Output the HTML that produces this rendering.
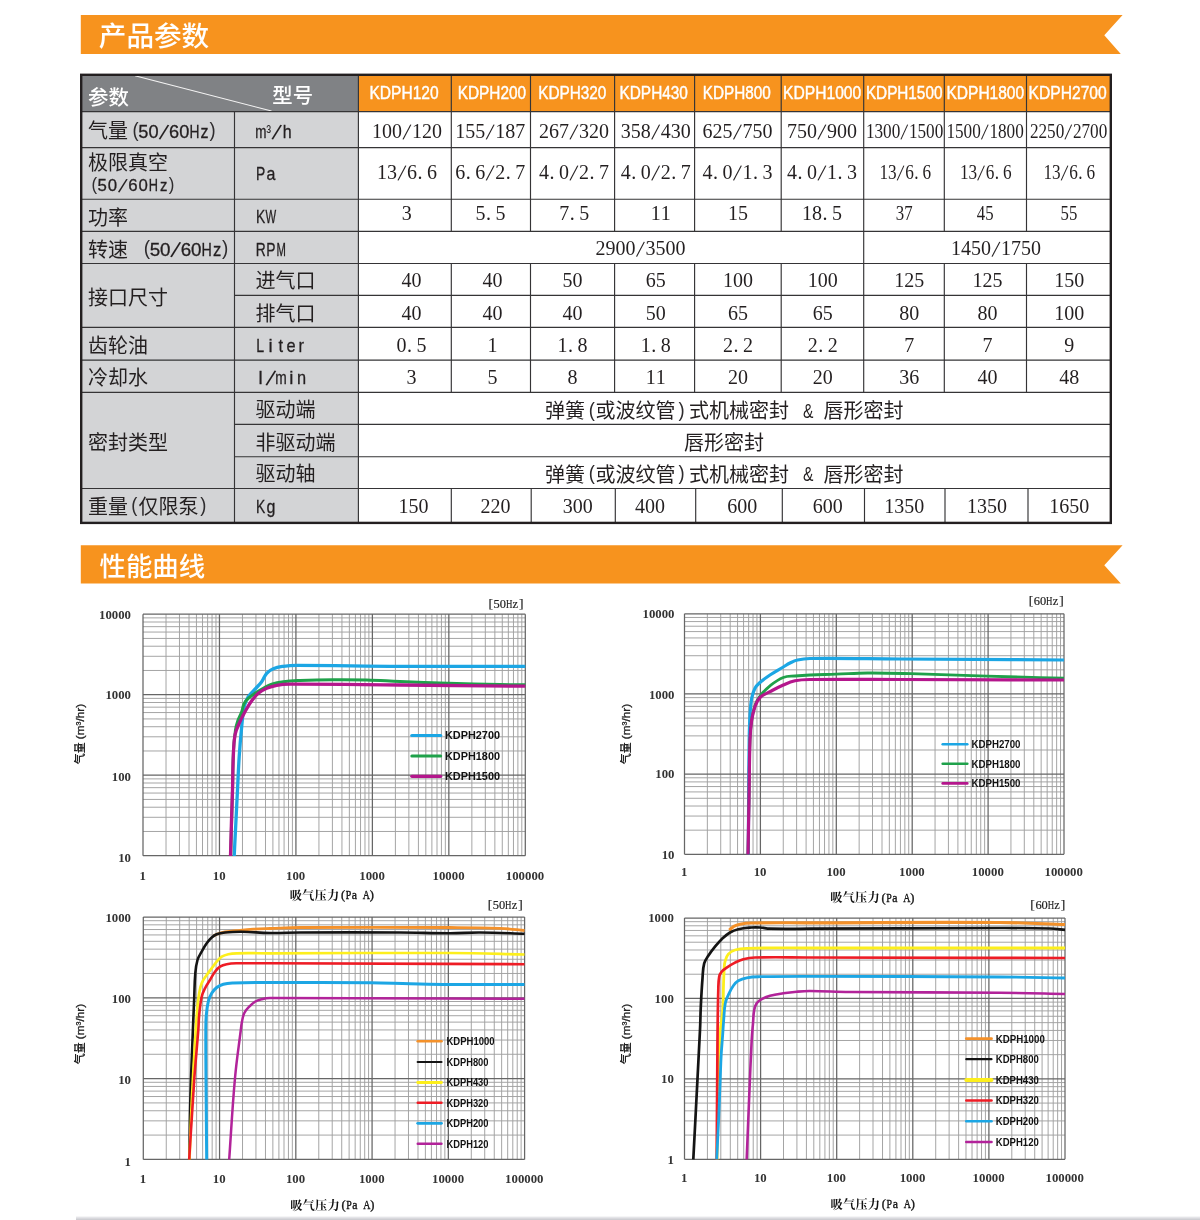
<!DOCTYPE html>
<html lang="zh-CN"><head><meta charset="utf-8"><title>KDPH 产品参数 / 性能曲线</title>
<style>html,body{margin:0;padding:0;background:#fff}svg{display:block}</style></head>
<body><svg width="1200" height="1220" viewBox="0 0 1200 1220">
<rect width="1200" height="1220" fill="#fff"/>
<path d="M80.8 15 H1122.6 L1104.3 35.3 L1120.8 54 H80.8 Z" fill="#F7931E"/>
<text x="98.8" y="45.6" font-family="'Liberation Sans','Noto Sans CJK SC',sans-serif" font-size="27.6" fill="#fff" text-anchor="start" font-weight="500">产品参数</text>
<path d="M80.8 545.3 H1122.6 L1104.3 565.25 L1120.8 583.6 H80.8 Z" fill="#F7931E"/>
<text x="99.5" y="575.5" font-family="'Liberation Sans','Noto Sans CJK SC',sans-serif" font-size="26.4" fill="#fff" text-anchor="start" font-weight="500">性能曲线</text>
<rect x="81" y="75" width="277.4" height="36.6" fill="#808285"/>
<rect x="358.4" y="75" width="752.4" height="36.6" fill="#F7931E"/>
<rect x="81" y="111.6" width="277.4" height="411.3" fill="#D3D4D6"/>
<path d="M135 75.8 L271.5 111" stroke="#f4f4f4" stroke-width="1.1" fill="none"/>
<path d="M81.2 111.6H1110.8M81.2 147.6H1110.8M81.2 199.2H1110.8M81.2 231.4H1110.8M81.2 263.5H1110.8M234.5 295.3H1110.8M81.2 327.4H1110.8M81.2 360.1H1110.8M81.2 392.4H1110.8M234.5 424.4H1110.8M234.5 456.7H1110.8M81.2 488.5H1110.8M234.5 111.6V522.9M358.4 74.8V522.9M451.3 74.8V231.4M451.3 263.5V392.4M530.5 74.8V231.4M530.5 263.5V392.4M614.6 74.8V231.4M614.6 263.5V392.4M694.6 74.8V231.4M694.6 263.5V392.4M781.2 74.8V231.4M781.2 263.5V392.4M863.7 74.8V231.4M863.7 263.5V392.4M944.3 74.8V231.4M944.3 263.5V392.4M1026.5 74.8V231.4M1026.5 263.5V392.4M863.7 231.4V263.5M451.3 488.5V522.9M531.2 488.5V522.9M615.3 488.5V522.9M695.7 488.5V522.9M782.3 488.5V522.9M864.5 488.5V522.9M945 488.5V522.9M1028 488.5V522.9" stroke="#353436" stroke-width="1.15" fill="none"/>
<rect x="81.2" y="74.8" width="1029.6" height="448.1" fill="none" stroke="#231F20" stroke-width="2.4"/>
<text x="88" y="104.8" font-family="'Liberation Sans','Noto Sans CJK SC',sans-serif" font-size="20.4" fill="#fff" text-anchor="start" font-weight="500">参数</text>
<text x="272.3" y="102.8" font-family="'Liberation Sans','Noto Sans CJK SC',sans-serif" font-size="20.4" fill="#fff" text-anchor="start" font-weight="500">型号</text>
<text x="369.5" y="99.4" font-family="'Liberation Sans',sans-serif" font-size="18" fill="#fff" stroke="#fff" stroke-width="0.45" textLength="69.1" lengthAdjust="spacingAndGlyphs">KDPH120</text>
<text x="457.7" y="99.4" font-family="'Liberation Sans',sans-serif" font-size="18" fill="#fff" stroke="#fff" stroke-width="0.45" textLength="68.4" lengthAdjust="spacingAndGlyphs">KDPH200</text>
<text x="538.2" y="99.4" font-family="'Liberation Sans',sans-serif" font-size="18" fill="#fff" stroke="#fff" stroke-width="0.45" textLength="68.1" lengthAdjust="spacingAndGlyphs">KDPH320</text>
<text x="619.5" y="99.4" font-family="'Liberation Sans',sans-serif" font-size="18" fill="#fff" stroke="#fff" stroke-width="0.45" textLength="68.4" lengthAdjust="spacingAndGlyphs">KDPH430</text>
<text x="702.8" y="99.4" font-family="'Liberation Sans',sans-serif" font-size="18" fill="#fff" stroke="#fff" stroke-width="0.45" textLength="67.9" lengthAdjust="spacingAndGlyphs">KDPH800</text>
<text x="783.1" y="99.4" font-family="'Liberation Sans',sans-serif" font-size="18" fill="#fff" stroke="#fff" stroke-width="0.45" textLength="78.1" lengthAdjust="spacingAndGlyphs">KDPH1000</text>
<text x="865.9" y="99.4" font-family="'Liberation Sans',sans-serif" font-size="18" fill="#fff" stroke="#fff" stroke-width="0.45" textLength="76.5" lengthAdjust="spacingAndGlyphs">KDPH1500</text>
<text x="946.5" y="99.4" font-family="'Liberation Sans',sans-serif" font-size="18" fill="#fff" stroke="#fff" stroke-width="0.45" textLength="77.6" lengthAdjust="spacingAndGlyphs">KDPH1800</text>
<text x="1028.6" y="99.4" font-family="'Liberation Sans',sans-serif" font-size="18" fill="#fff" stroke="#fff" stroke-width="0.45" textLength="78.1" lengthAdjust="spacingAndGlyphs">KDPH2700</text>
<text font-family="'Liberation Sans','Noto Sans CJK SC',sans-serif" font-size="20" font-weight="400" fill="#231F20"><tspan x="88" y="138.3">气量</tspan><tspan x="132.44" y="136.9" font-family="'Liberation Sans',sans-serif" font-size="20.4" textLength="6.11" lengthAdjust="spacingAndGlyphs" fill="#2e2c2e">(</tspan><tspan x="138.34" y="138.2" font-family="'Liberation Sans',sans-serif" font-size="18.2" stroke="#231F20" stroke-width="0.3">5</tspan><tspan x="148.54" y="138.2" font-family="'Liberation Sans',sans-serif" font-size="18.2" stroke="#231F20" stroke-width="0.3">0</tspan><tspan x="158.63" y="138.8" font-family="'Liberation Sans',sans-serif" font-size="22" rotate="17">/</tspan><tspan x="168.94" y="138.2" font-family="'Liberation Sans',sans-serif" font-size="18.2" stroke="#231F20" stroke-width="0.3">6</tspan><tspan x="179.14" y="138.2" font-family="'Liberation Sans',sans-serif" font-size="18.2" stroke="#231F20" stroke-width="0.3">0</tspan><tspan x="189.41" y="138.2" font-family="'Liberation Sans',sans-serif" font-size="18.2" textLength="9.99" lengthAdjust="spacingAndGlyphs" stroke="#231F20" stroke-width="0.3">H</tspan><tspan x="200.6" y="138.2" font-family="'Liberation Sans',sans-serif" font-size="18.2" textLength="8.01" lengthAdjust="spacingAndGlyphs" stroke="#231F20" stroke-width="0.3">z</tspan><tspan x="209.44" y="136.9" font-family="'Liberation Sans',sans-serif" font-size="20.4" textLength="6.11" lengthAdjust="spacingAndGlyphs" fill="#2e2c2e">)</tspan></text>
<text font-family="'Liberation Sans','Noto Sans CJK SC',sans-serif" font-size="20" font-weight="400" fill="#231F20"><tspan x="88" y="169.8">极限真空</tspan></text>
<text font-family="'Liberation Sans','Noto Sans CJK SC',sans-serif" font-size="20" font-weight="400" fill="#231F20"><tspan x="91.4" y="189.9" font-family="'Liberation Sans',sans-serif" font-size="18.83" textLength="5.64" lengthAdjust="spacingAndGlyphs" fill="#2e2c2e">(</tspan><tspan x="97.5" y="191.2" font-family="'Liberation Sans',sans-serif" font-size="16.8" stroke="#231F20" stroke-width="0.3">5</tspan><tspan x="107.75" y="191.2" font-family="'Liberation Sans',sans-serif" font-size="16.8" stroke="#231F20" stroke-width="0.3">0</tspan><tspan x="117.9" y="191.8" font-family="'Liberation Sans',sans-serif" font-size="20.31" rotate="17">/</tspan><tspan x="128.25" y="191.2" font-family="'Liberation Sans',sans-serif" font-size="16.8" stroke="#231F20" stroke-width="0.3">6</tspan><tspan x="138.5" y="191.2" font-family="'Liberation Sans',sans-serif" font-size="16.8" stroke="#231F20" stroke-width="0.3">0</tspan><tspan x="148.81" y="191.2" font-family="'Liberation Sans',sans-serif" font-size="16.8" textLength="9.22" lengthAdjust="spacingAndGlyphs" stroke="#231F20" stroke-width="0.3">H</tspan><tspan x="159.98" y="191.2" font-family="'Liberation Sans',sans-serif" font-size="16.8" textLength="7.39" lengthAdjust="spacingAndGlyphs" stroke="#231F20" stroke-width="0.3">z</tspan><tspan x="168.8" y="189.9" font-family="'Liberation Sans',sans-serif" font-size="18.83" textLength="5.64" lengthAdjust="spacingAndGlyphs" fill="#2e2c2e">)</tspan></text>
<text font-family="'Liberation Sans','Noto Sans CJK SC',sans-serif" font-size="20" font-weight="400" fill="#231F20"><tspan x="88" y="225.3">功率</tspan></text>
<text font-family="'Liberation Sans','Noto Sans CJK SC',sans-serif" font-size="20" font-weight="400" fill="#231F20"><tspan x="88" y="257.3">转速</tspan> <tspan x="143.72" y="254.7" font-family="'Liberation Sans',sans-serif" font-size="21.07" textLength="6.32" lengthAdjust="spacingAndGlyphs" fill="#2e2c2e">(</tspan><tspan x="149.7" y="256" font-family="'Liberation Sans',sans-serif" font-size="18.8" stroke="#231F20" stroke-width="0.3">5</tspan><tspan x="160.05" y="256" font-family="'Liberation Sans',sans-serif" font-size="18.8" stroke="#231F20" stroke-width="0.3">0</tspan><tspan x="170.28" y="256.6" font-family="'Liberation Sans',sans-serif" font-size="22.73" rotate="17">/</tspan><tspan x="180.75" y="256" font-family="'Liberation Sans',sans-serif" font-size="18.8" stroke="#231F20" stroke-width="0.3">6</tspan><tspan x="191.1" y="256" font-family="'Liberation Sans',sans-serif" font-size="18.8" stroke="#231F20" stroke-width="0.3">0</tspan><tspan x="201.52" y="256" font-family="'Liberation Sans',sans-serif" font-size="18.8" textLength="10.32" lengthAdjust="spacingAndGlyphs" stroke="#231F20" stroke-width="0.3">H</tspan><tspan x="212.89" y="256" font-family="'Liberation Sans',sans-serif" font-size="18.8" textLength="8.27" lengthAdjust="spacingAndGlyphs" stroke="#231F20" stroke-width="0.3">z</tspan><tspan x="221.92" y="254.7" font-family="'Liberation Sans',sans-serif" font-size="21.07" textLength="6.32" lengthAdjust="spacingAndGlyphs" fill="#2e2c2e">)</tspan></text>
<text font-family="'Liberation Sans','Noto Sans CJK SC',sans-serif" font-size="20" font-weight="400" fill="#231F20"><tspan x="88" y="304.8">接口尺寸</tspan></text>
<text font-family="'Liberation Sans','Noto Sans CJK SC',sans-serif" font-size="20" font-weight="400" fill="#231F20"><tspan x="88" y="353.3">齿轮油</tspan></text>
<text font-family="'Liberation Sans','Noto Sans CJK SC',sans-serif" font-size="20" font-weight="400" fill="#231F20"><tspan x="88" y="384.8">冷却水</tspan></text>
<text font-family="'Liberation Sans','Noto Sans CJK SC',sans-serif" font-size="20" font-weight="400" fill="#231F20"><tspan x="88" y="449.8">密封类型</tspan></text>
<text font-family="'Liberation Sans','Noto Sans CJK SC',sans-serif" font-size="20" font-weight="400" fill="#231F20"><tspan x="88" y="513.8">重量</tspan><tspan x="131.14" y="512.2" font-family="'Liberation Sans',sans-serif" font-size="20.4" textLength="6.11" lengthAdjust="spacingAndGlyphs" fill="#2e2c2e">(</tspan><tspan x="138.6" y="513.8">仅限泵</tspan><tspan x="200.24" y="512.2" font-family="'Liberation Sans',sans-serif" font-size="20.4" textLength="6.11" lengthAdjust="spacingAndGlyphs" fill="#2e2c2e">)</tspan></text>
<text font-family="'Liberation Sans','Noto Sans CJK SC',sans-serif" font-size="20" font-weight="400" fill="#231F20"><tspan x="255.5" y="288.3">进气口</tspan></text>
<text font-family="'Liberation Sans','Noto Sans CJK SC',sans-serif" font-size="20" font-weight="400" fill="#231F20"><tspan x="255.5" y="320.8">排气口</tspan></text>
<text font-family="'Liberation Sans','Noto Sans CJK SC',sans-serif" font-size="20" font-weight="400" fill="#231F20"><tspan x="255.5" y="417.3">驱动端</tspan></text>
<text font-family="'Liberation Sans','Noto Sans CJK SC',sans-serif" font-size="20" font-weight="400" fill="#231F20"><tspan x="255.5" y="449.8">非驱动端</tspan></text>
<text font-family="'Liberation Sans','Noto Sans CJK SC',sans-serif" font-size="20" font-weight="400" fill="#231F20"><tspan x="255.5" y="481.3">驱动轴</tspan></text>
<text font-family="'Liberation Sans',sans-serif" font-size="18.2" font-weight="400" fill="#231F20"><tspan x="255.19" y="138.2" textLength="11.22" lengthAdjust="spacingAndGlyphs" stroke="#231F20" stroke-width="0.3">m</tspan><tspan x="266.14" y="137.6" font-size="17" textLength="4.81" lengthAdjust="spacingAndGlyphs">³</tspan><tspan x="271.43" y="138.8" font-size="22" rotate="17">/</tspan><tspan x="282.75" y="138.2" textLength="8.91" lengthAdjust="spacingAndGlyphs" stroke="#231F20" stroke-width="0.3">h</tspan></text>
<text font-family="'Liberation Sans',sans-serif" font-size="18.2" font-weight="400" fill="#231F20"><tspan x="256.09" y="179.7" textLength="9.23" lengthAdjust="spacingAndGlyphs" stroke="#231F20" stroke-width="0.3">P</tspan><tspan x="266.45" y="179.7" textLength="8.91" lengthAdjust="spacingAndGlyphs" stroke="#231F20" stroke-width="0.3">a</tspan></text>
<text font-family="'Liberation Sans',sans-serif" font-size="18.2" font-weight="400" fill="#231F20"><tspan x="256.09" y="223.2" textLength="9.23" lengthAdjust="spacingAndGlyphs" stroke="#231F20" stroke-width="0.3">K</tspan><tspan x="265.57" y="223.2" textLength="10.65" lengthAdjust="spacingAndGlyphs" stroke="#231F20" stroke-width="0.3">W</tspan></text>
<text font-family="'Liberation Sans',sans-serif" font-size="18.2" font-weight="400" fill="#231F20"><tspan x="255.71" y="255.8" textLength="9.99" lengthAdjust="spacingAndGlyphs" stroke="#231F20" stroke-width="0.3">R</tspan><tspan x="266.29" y="255.8" textLength="9.23" lengthAdjust="spacingAndGlyphs" stroke="#231F20" stroke-width="0.3">P</tspan><tspan x="276.4" y="255.8" textLength="9.4" lengthAdjust="spacingAndGlyphs" stroke="#231F20" stroke-width="0.3">M</tspan></text>
<text font-family="'Liberation Sans',sans-serif" font-size="18.6" font-weight="400" fill="#231F20"><tspan x="256.22" y="352.1" textLength="7.86" lengthAdjust="spacingAndGlyphs" stroke="#231F20" stroke-width="0.3">L</tspan><tspan x="268.38" y="352.1" stroke="#231F20" stroke-width="0.3">i</tspan><tspan x="278.48" y="352.1" textLength="4.55" lengthAdjust="spacingAndGlyphs" stroke="#231F20" stroke-width="0.3">t</tspan><tspan x="286.5" y="352.1" textLength="9.1" lengthAdjust="spacingAndGlyphs" stroke="#231F20" stroke-width="0.3">e</tspan><tspan x="298.62" y="352.1" textLength="5.45" lengthAdjust="spacingAndGlyphs" stroke="#231F20" stroke-width="0.3">r</tspan></text>
<text font-family="'Liberation Sans',sans-serif" font-size="18.6" font-weight="400" fill="#231F20"><tspan x="258.38" y="384.1" stroke="#231F20" stroke-width="0.3">l</tspan><tspan x="265.46" y="384.7" font-size="22.48" rotate="17">/</tspan><tspan x="275.32" y="384.1" textLength="11.47" lengthAdjust="spacingAndGlyphs" stroke="#231F20" stroke-width="0.3">m</tspan><tspan x="289.28" y="384.1" stroke="#231F20" stroke-width="0.3">i</tspan><tspan x="297.1" y="384.1" textLength="9.1" lengthAdjust="spacingAndGlyphs" stroke="#231F20" stroke-width="0.3">n</tspan></text>
<text font-family="'Liberation Sans',sans-serif" font-size="18.2" font-weight="400" fill="#231F20"><tspan x="256.09" y="512.6" textLength="9.23" lengthAdjust="spacingAndGlyphs" stroke="#231F20" stroke-width="0.3">K</tspan><tspan x="266.45" y="512.6" textLength="8.91" lengthAdjust="spacingAndGlyphs" stroke="#231F20" stroke-width="0.3">g</tspan></text>
<text font-family="'Liberation Serif','Noto Serif CJK SC',serif" font-size="20" font-weight="400" fill="#231F20"><tspan x="372.1" y="138.3">1</tspan><tspan x="382.1" y="138.3">0</tspan><tspan x="392.1" y="138.3">0</tspan><tspan x="402.59" y="139.1" font-size="23.5" rotate="9">/</tspan><tspan x="412.1" y="138.3">1</tspan><tspan x="422.1" y="138.3">2</tspan><tspan x="432.1" y="138.3">0</tspan></text>
<text font-family="'Liberation Serif','Noto Serif CJK SC',serif" font-size="20" font-weight="400" fill="#231F20"><tspan x="377.1" y="179.2">1</tspan><tspan x="387.1" y="179.2">3</tspan><tspan x="397.59" y="180" font-size="23.5" rotate="9">/</tspan><tspan x="407.1" y="179.2">6</tspan><tspan x="417.6" y="179.2">.</tspan><tspan x="427.1" y="179.2">6</tspan></text>
<text font-family="'Liberation Serif','Noto Serif CJK SC',serif" font-size="20" font-weight="400" fill="#231F20"><tspan x="401.8" y="220.4">3</tspan></text>
<text font-family="'Liberation Serif','Noto Serif CJK SC',serif" font-size="20" font-weight="400" fill="#231F20"><tspan x="455.3" y="138.3">1</tspan><tspan x="465.3" y="138.3">5</tspan><tspan x="475.3" y="138.3">5</tspan><tspan x="485.79" y="139.1" font-size="23.5" rotate="9">/</tspan><tspan x="495.3" y="138.3">1</tspan><tspan x="505.3" y="138.3">8</tspan><tspan x="515.3" y="138.3">7</tspan></text>
<text font-family="'Liberation Serif','Noto Serif CJK SC',serif" font-size="20" font-weight="400" fill="#231F20"><tspan x="455.3" y="179.2">6</tspan><tspan x="465.8" y="179.2">.</tspan><tspan x="475.3" y="179.2">6</tspan><tspan x="485.79" y="180" font-size="23.5" rotate="9">/</tspan><tspan x="495.3" y="179.2">2</tspan><tspan x="505.8" y="179.2">.</tspan><tspan x="515.3" y="179.2">7</tspan></text>
<text font-family="'Liberation Serif','Noto Serif CJK SC',serif" font-size="20" font-weight="400" fill="#231F20"><tspan x="475.5" y="220.4">5</tspan><tspan x="486" y="220.4">.</tspan><tspan x="495.5" y="220.4">5</tspan></text>
<text font-family="'Liberation Serif','Noto Serif CJK SC',serif" font-size="20" font-weight="400" fill="#231F20"><tspan x="539" y="138.3">2</tspan><tspan x="549" y="138.3">6</tspan><tspan x="559" y="138.3">7</tspan><tspan x="569.49" y="139.1" font-size="23.5" rotate="9">/</tspan><tspan x="579" y="138.3">3</tspan><tspan x="589" y="138.3">2</tspan><tspan x="599" y="138.3">0</tspan></text>
<text font-family="'Liberation Serif','Noto Serif CJK SC',serif" font-size="20" font-weight="400" fill="#231F20"><tspan x="539" y="179.2">4</tspan><tspan x="549.5" y="179.2">.</tspan><tspan x="559" y="179.2">0</tspan><tspan x="569.49" y="180" font-size="23.5" rotate="9">/</tspan><tspan x="579" y="179.2">2</tspan><tspan x="589.5" y="179.2">.</tspan><tspan x="599" y="179.2">7</tspan></text>
<text font-family="'Liberation Serif','Noto Serif CJK SC',serif" font-size="20" font-weight="400" fill="#231F20"><tspan x="559.2" y="220.4">7</tspan><tspan x="569.7" y="220.4">.</tspan><tspan x="579.2" y="220.4">5</tspan></text>
<text font-family="'Liberation Serif','Noto Serif CJK SC',serif" font-size="20" font-weight="400" fill="#231F20"><tspan x="620.7" y="138.3">3</tspan><tspan x="630.7" y="138.3">5</tspan><tspan x="640.7" y="138.3">8</tspan><tspan x="651.19" y="139.1" font-size="23.5" rotate="9">/</tspan><tspan x="660.7" y="138.3">4</tspan><tspan x="670.7" y="138.3">3</tspan><tspan x="680.7" y="138.3">0</tspan></text>
<text font-family="'Liberation Serif','Noto Serif CJK SC',serif" font-size="20" font-weight="400" fill="#231F20"><tspan x="620.7" y="179.2">4</tspan><tspan x="631.2" y="179.2">.</tspan><tspan x="640.7" y="179.2">0</tspan><tspan x="651.19" y="180" font-size="23.5" rotate="9">/</tspan><tspan x="660.7" y="179.2">2</tspan><tspan x="671.2" y="179.2">.</tspan><tspan x="680.7" y="179.2">7</tspan></text>
<text font-family="'Liberation Serif','Noto Serif CJK SC',serif" font-size="20" font-weight="400" fill="#231F20"><tspan x="650.8" y="220.4">1</tspan><tspan x="660.8" y="220.4">1</tspan></text>
<text font-family="'Liberation Serif','Noto Serif CJK SC',serif" font-size="20" font-weight="400" fill="#231F20"><tspan x="702.6" y="138.3">6</tspan><tspan x="712.6" y="138.3">2</tspan><tspan x="722.6" y="138.3">5</tspan><tspan x="733.09" y="139.1" font-size="23.5" rotate="9">/</tspan><tspan x="742.6" y="138.3">7</tspan><tspan x="752.6" y="138.3">5</tspan><tspan x="762.6" y="138.3">0</tspan></text>
<text font-family="'Liberation Serif','Noto Serif CJK SC',serif" font-size="20" font-weight="400" fill="#231F20"><tspan x="702.6" y="179.2">4</tspan><tspan x="713.1" y="179.2">.</tspan><tspan x="722.6" y="179.2">0</tspan><tspan x="733.09" y="180" font-size="23.5" rotate="9">/</tspan><tspan x="742.6" y="179.2">1</tspan><tspan x="753.1" y="179.2">.</tspan><tspan x="762.6" y="179.2">3</tspan></text>
<text font-family="'Liberation Serif','Noto Serif CJK SC',serif" font-size="20" font-weight="400" fill="#231F20"><tspan x="728" y="220.4">1</tspan><tspan x="738" y="220.4">5</tspan></text>
<text font-family="'Liberation Serif','Noto Serif CJK SC',serif" font-size="20" font-weight="400" fill="#231F20"><tspan x="786.9" y="138.3">7</tspan><tspan x="796.9" y="138.3">5</tspan><tspan x="806.9" y="138.3">0</tspan><tspan x="817.39" y="139.1" font-size="23.5" rotate="9">/</tspan><tspan x="826.9" y="138.3">9</tspan><tspan x="836.9" y="138.3">0</tspan><tspan x="846.9" y="138.3">0</tspan></text>
<text font-family="'Liberation Serif','Noto Serif CJK SC',serif" font-size="20" font-weight="400" fill="#231F20"><tspan x="786.9" y="179.2">4</tspan><tspan x="797.4" y="179.2">.</tspan><tspan x="806.9" y="179.2">0</tspan><tspan x="817.39" y="180" font-size="23.5" rotate="9">/</tspan><tspan x="826.9" y="179.2">1</tspan><tspan x="837.4" y="179.2">.</tspan><tspan x="846.9" y="179.2">3</tspan></text>
<text font-family="'Liberation Serif','Noto Serif CJK SC',serif" font-size="20" font-weight="400" fill="#231F20"><tspan x="802" y="220.4">1</tspan><tspan x="812" y="220.4">8</tspan><tspan x="822.5" y="220.4">.</tspan><tspan x="832" y="220.4">5</tspan></text>
<text font-family="'Liberation Serif','Noto Serif CJK SC',serif" font-size="20" font-weight="400" fill="#231F20"><tspan x="865.9" y="138.3" textLength="8.6" lengthAdjust="spacingAndGlyphs">1</tspan><tspan x="874.5" y="138.3" textLength="8.6" lengthAdjust="spacingAndGlyphs">3</tspan><tspan x="883.1" y="138.3" textLength="8.6" lengthAdjust="spacingAndGlyphs">0</tspan><tspan x="891.7" y="138.3" textLength="8.6" lengthAdjust="spacingAndGlyphs">0</tspan><tspan x="900.54" y="139.1" font-size="23.5" textLength="5.62" lengthAdjust="spacingAndGlyphs" rotate="9">/</tspan><tspan x="908.9" y="138.3" textLength="8.6" lengthAdjust="spacingAndGlyphs">1</tspan><tspan x="917.5" y="138.3" textLength="8.6" lengthAdjust="spacingAndGlyphs">5</tspan><tspan x="926.1" y="138.3" textLength="8.6" lengthAdjust="spacingAndGlyphs">0</tspan><tspan x="934.7" y="138.3" textLength="8.6" lengthAdjust="spacingAndGlyphs">0</tspan></text>
<text font-family="'Liberation Serif','Noto Serif CJK SC',serif" font-size="20" font-weight="400" fill="#231F20"><tspan x="879.4" y="179.2" textLength="8.6" lengthAdjust="spacingAndGlyphs">1</tspan><tspan x="888" y="179.2" textLength="8.6" lengthAdjust="spacingAndGlyphs">3</tspan><tspan x="896.84" y="180" font-size="23.5" textLength="5.62" lengthAdjust="spacingAndGlyphs" rotate="9">/</tspan><tspan x="905.2" y="179.2" textLength="8.6" lengthAdjust="spacingAndGlyphs">6</tspan><tspan x="914.23" y="179.2" textLength="4.3" lengthAdjust="spacingAndGlyphs">.</tspan><tspan x="922.4" y="179.2" textLength="8.6" lengthAdjust="spacingAndGlyphs">6</tspan></text>
<text font-family="'Liberation Serif','Noto Serif CJK SC',serif" font-size="20" font-weight="400" fill="#231F20"><tspan x="895.8" y="220.4" textLength="8.4" lengthAdjust="spacingAndGlyphs">3</tspan><tspan x="904.2" y="220.4" textLength="8.4" lengthAdjust="spacingAndGlyphs">7</tspan></text>
<text font-family="'Liberation Serif','Noto Serif CJK SC',serif" font-size="20" font-weight="400" fill="#231F20"><tspan x="946.4" y="138.3" textLength="8.6" lengthAdjust="spacingAndGlyphs">1</tspan><tspan x="955" y="138.3" textLength="8.6" lengthAdjust="spacingAndGlyphs">5</tspan><tspan x="963.6" y="138.3" textLength="8.6" lengthAdjust="spacingAndGlyphs">0</tspan><tspan x="972.2" y="138.3" textLength="8.6" lengthAdjust="spacingAndGlyphs">0</tspan><tspan x="981.04" y="139.1" font-size="23.5" textLength="5.62" lengthAdjust="spacingAndGlyphs" rotate="9">/</tspan><tspan x="989.4" y="138.3" textLength="8.6" lengthAdjust="spacingAndGlyphs">1</tspan><tspan x="998" y="138.3" textLength="8.6" lengthAdjust="spacingAndGlyphs">8</tspan><tspan x="1006.6" y="138.3" textLength="8.6" lengthAdjust="spacingAndGlyphs">0</tspan><tspan x="1015.2" y="138.3" textLength="8.6" lengthAdjust="spacingAndGlyphs">0</tspan></text>
<text font-family="'Liberation Serif','Noto Serif CJK SC',serif" font-size="20" font-weight="400" fill="#231F20"><tspan x="959.9" y="179.2" textLength="8.6" lengthAdjust="spacingAndGlyphs">1</tspan><tspan x="968.5" y="179.2" textLength="8.6" lengthAdjust="spacingAndGlyphs">3</tspan><tspan x="977.34" y="180" font-size="23.5" textLength="5.62" lengthAdjust="spacingAndGlyphs" rotate="9">/</tspan><tspan x="985.7" y="179.2" textLength="8.6" lengthAdjust="spacingAndGlyphs">6</tspan><tspan x="994.73" y="179.2" textLength="4.3" lengthAdjust="spacingAndGlyphs">.</tspan><tspan x="1002.9" y="179.2" textLength="8.6" lengthAdjust="spacingAndGlyphs">6</tspan></text>
<text font-family="'Liberation Serif','Noto Serif CJK SC',serif" font-size="20" font-weight="400" fill="#231F20"><tspan x="976.8" y="220.4" textLength="8.4" lengthAdjust="spacingAndGlyphs">4</tspan><tspan x="985.2" y="220.4" textLength="8.4" lengthAdjust="spacingAndGlyphs">5</tspan></text>
<text font-family="'Liberation Serif','Noto Serif CJK SC',serif" font-size="20" font-weight="400" fill="#231F20"><tspan x="1029.9" y="138.3" textLength="8.6" lengthAdjust="spacingAndGlyphs">2</tspan><tspan x="1038.5" y="138.3" textLength="8.6" lengthAdjust="spacingAndGlyphs">2</tspan><tspan x="1047.1" y="138.3" textLength="8.6" lengthAdjust="spacingAndGlyphs">5</tspan><tspan x="1055.7" y="138.3" textLength="8.6" lengthAdjust="spacingAndGlyphs">0</tspan><tspan x="1064.54" y="139.1" font-size="23.5" textLength="5.62" lengthAdjust="spacingAndGlyphs" rotate="9">/</tspan><tspan x="1072.9" y="138.3" textLength="8.6" lengthAdjust="spacingAndGlyphs">2</tspan><tspan x="1081.5" y="138.3" textLength="8.6" lengthAdjust="spacingAndGlyphs">7</tspan><tspan x="1090.1" y="138.3" textLength="8.6" lengthAdjust="spacingAndGlyphs">0</tspan><tspan x="1098.7" y="138.3" textLength="8.6" lengthAdjust="spacingAndGlyphs">0</tspan></text>
<text font-family="'Liberation Serif','Noto Serif CJK SC',serif" font-size="20" font-weight="400" fill="#231F20"><tspan x="1043.4" y="179.2" textLength="8.6" lengthAdjust="spacingAndGlyphs">1</tspan><tspan x="1052" y="179.2" textLength="8.6" lengthAdjust="spacingAndGlyphs">3</tspan><tspan x="1060.84" y="180" font-size="23.5" textLength="5.62" lengthAdjust="spacingAndGlyphs" rotate="9">/</tspan><tspan x="1069.2" y="179.2" textLength="8.6" lengthAdjust="spacingAndGlyphs">6</tspan><tspan x="1078.23" y="179.2" textLength="4.3" lengthAdjust="spacingAndGlyphs">.</tspan><tspan x="1086.4" y="179.2" textLength="8.6" lengthAdjust="spacingAndGlyphs">6</tspan></text>
<text font-family="'Liberation Serif','Noto Serif CJK SC',serif" font-size="20" font-weight="400" fill="#231F20"><tspan x="1060.6" y="220.4" textLength="8.4" lengthAdjust="spacingAndGlyphs">5</tspan><tspan x="1069" y="220.4" textLength="8.4" lengthAdjust="spacingAndGlyphs">5</tspan></text>
<text font-family="'Liberation Serif','Noto Serif CJK SC',serif" font-size="20" font-weight="400" fill="#231F20"><tspan x="595.6" y="255.4">2</tspan><tspan x="605.6" y="255.4">9</tspan><tspan x="615.6" y="255.4">0</tspan><tspan x="625.6" y="255.4">0</tspan><tspan x="636.09" y="256.2" font-size="23.5" rotate="9">/</tspan><tspan x="645.6" y="255.4">3</tspan><tspan x="655.6" y="255.4">5</tspan><tspan x="665.6" y="255.4">0</tspan><tspan x="675.6" y="255.4">0</tspan></text>
<text font-family="'Liberation Serif','Noto Serif CJK SC',serif" font-size="20" font-weight="400" fill="#231F20"><tspan x="951" y="255.4">1</tspan><tspan x="961" y="255.4">4</tspan><tspan x="971" y="255.4">5</tspan><tspan x="981" y="255.4">0</tspan><tspan x="991.49" y="256.2" font-size="23.5" rotate="9">/</tspan><tspan x="1001" y="255.4">1</tspan><tspan x="1011" y="255.4">7</tspan><tspan x="1021" y="255.4">5</tspan><tspan x="1031" y="255.4">0</tspan></text>
<text font-family="'Liberation Serif','Noto Serif CJK SC',serif" font-size="20" font-weight="400" fill="#231F20"><tspan x="401.5" y="287.1">4</tspan><tspan x="411.5" y="287.1">0</tspan></text>
<text font-family="'Liberation Serif','Noto Serif CJK SC',serif" font-size="20" font-weight="400" fill="#231F20"><tspan x="482.4" y="287.1">4</tspan><tspan x="492.4" y="287.1">0</tspan></text>
<text font-family="'Liberation Serif','Noto Serif CJK SC',serif" font-size="20" font-weight="400" fill="#231F20"><tspan x="562.6" y="287.1">5</tspan><tspan x="572.6" y="287.1">0</tspan></text>
<text font-family="'Liberation Serif','Noto Serif CJK SC',serif" font-size="20" font-weight="400" fill="#231F20"><tspan x="645.8" y="287.1">6</tspan><tspan x="655.8" y="287.1">5</tspan></text>
<text font-family="'Liberation Serif','Noto Serif CJK SC',serif" font-size="20" font-weight="400" fill="#231F20"><tspan x="723" y="287.1">1</tspan><tspan x="733" y="287.1">0</tspan><tspan x="743" y="287.1">0</tspan></text>
<text font-family="'Liberation Serif','Noto Serif CJK SC',serif" font-size="20" font-weight="400" fill="#231F20"><tspan x="807.8" y="287.1">1</tspan><tspan x="817.8" y="287.1">0</tspan><tspan x="827.8" y="287.1">0</tspan></text>
<text font-family="'Liberation Serif','Noto Serif CJK SC',serif" font-size="20" font-weight="400" fill="#231F20"><tspan x="894.3" y="287.1">1</tspan><tspan x="904.3" y="287.1">2</tspan><tspan x="914.3" y="287.1">5</tspan></text>
<text font-family="'Liberation Serif','Noto Serif CJK SC',serif" font-size="20" font-weight="400" fill="#231F20"><tspan x="972.5" y="287.1">1</tspan><tspan x="982.5" y="287.1">2</tspan><tspan x="992.5" y="287.1">5</tspan></text>
<text font-family="'Liberation Serif','Noto Serif CJK SC',serif" font-size="20" font-weight="400" fill="#231F20"><tspan x="1054.2" y="287.1">1</tspan><tspan x="1064.2" y="287.1">5</tspan><tspan x="1074.2" y="287.1">0</tspan></text>
<text font-family="'Liberation Serif','Noto Serif CJK SC',serif" font-size="20" font-weight="400" fill="#231F20"><tspan x="401.5" y="320.3">4</tspan><tspan x="411.5" y="320.3">0</tspan></text>
<text font-family="'Liberation Serif','Noto Serif CJK SC',serif" font-size="20" font-weight="400" fill="#231F20"><tspan x="482.4" y="320.3">4</tspan><tspan x="492.4" y="320.3">0</tspan></text>
<text font-family="'Liberation Serif','Noto Serif CJK SC',serif" font-size="20" font-weight="400" fill="#231F20"><tspan x="562.6" y="320.3">4</tspan><tspan x="572.6" y="320.3">0</tspan></text>
<text font-family="'Liberation Serif','Noto Serif CJK SC',serif" font-size="20" font-weight="400" fill="#231F20"><tspan x="645.8" y="320.3">5</tspan><tspan x="655.8" y="320.3">0</tspan></text>
<text font-family="'Liberation Serif','Noto Serif CJK SC',serif" font-size="20" font-weight="400" fill="#231F20"><tspan x="728" y="320.3">6</tspan><tspan x="738" y="320.3">5</tspan></text>
<text font-family="'Liberation Serif','Noto Serif CJK SC',serif" font-size="20" font-weight="400" fill="#231F20"><tspan x="812.8" y="320.3">6</tspan><tspan x="822.8" y="320.3">5</tspan></text>
<text font-family="'Liberation Serif','Noto Serif CJK SC',serif" font-size="20" font-weight="400" fill="#231F20"><tspan x="899.3" y="320.3">8</tspan><tspan x="909.3" y="320.3">0</tspan></text>
<text font-family="'Liberation Serif','Noto Serif CJK SC',serif" font-size="20" font-weight="400" fill="#231F20"><tspan x="977.5" y="320.3">8</tspan><tspan x="987.5" y="320.3">0</tspan></text>
<text font-family="'Liberation Serif','Noto Serif CJK SC',serif" font-size="20" font-weight="400" fill="#231F20"><tspan x="1054.2" y="320.3">1</tspan><tspan x="1064.2" y="320.3">0</tspan><tspan x="1074.2" y="320.3">0</tspan></text>
<text font-family="'Liberation Serif','Noto Serif CJK SC',serif" font-size="20" font-weight="400" fill="#231F20"><tspan x="396.5" y="352.4">0</tspan><tspan x="407" y="352.4">.</tspan><tspan x="416.5" y="352.4">5</tspan></text>
<text font-family="'Liberation Serif','Noto Serif CJK SC',serif" font-size="20" font-weight="400" fill="#231F20"><tspan x="487.4" y="352.4">1</tspan></text>
<text font-family="'Liberation Serif','Noto Serif CJK SC',serif" font-size="20" font-weight="400" fill="#231F20"><tspan x="557.6" y="352.4">1</tspan><tspan x="568.1" y="352.4">.</tspan><tspan x="577.6" y="352.4">8</tspan></text>
<text font-family="'Liberation Serif','Noto Serif CJK SC',serif" font-size="20" font-weight="400" fill="#231F20"><tspan x="640.8" y="352.4">1</tspan><tspan x="651.3" y="352.4">.</tspan><tspan x="660.8" y="352.4">8</tspan></text>
<text font-family="'Liberation Serif','Noto Serif CJK SC',serif" font-size="20" font-weight="400" fill="#231F20"><tspan x="723" y="352.4">2</tspan><tspan x="733.5" y="352.4">.</tspan><tspan x="743" y="352.4">2</tspan></text>
<text font-family="'Liberation Serif','Noto Serif CJK SC',serif" font-size="20" font-weight="400" fill="#231F20"><tspan x="807.8" y="352.4">2</tspan><tspan x="818.3" y="352.4">.</tspan><tspan x="827.8" y="352.4">2</tspan></text>
<text font-family="'Liberation Serif','Noto Serif CJK SC',serif" font-size="20" font-weight="400" fill="#231F20"><tspan x="904.3" y="352.4">7</tspan></text>
<text font-family="'Liberation Serif','Noto Serif CJK SC',serif" font-size="20" font-weight="400" fill="#231F20"><tspan x="982.5" y="352.4">7</tspan></text>
<text font-family="'Liberation Serif','Noto Serif CJK SC',serif" font-size="20" font-weight="400" fill="#231F20"><tspan x="1064.2" y="352.4">9</tspan></text>
<text font-family="'Liberation Serif','Noto Serif CJK SC',serif" font-size="20" font-weight="400" fill="#231F20"><tspan x="406.5" y="384.3">3</tspan></text>
<text font-family="'Liberation Serif','Noto Serif CJK SC',serif" font-size="20" font-weight="400" fill="#231F20"><tspan x="487.4" y="384.3">5</tspan></text>
<text font-family="'Liberation Serif','Noto Serif CJK SC',serif" font-size="20" font-weight="400" fill="#231F20"><tspan x="567.6" y="384.3">8</tspan></text>
<text font-family="'Liberation Serif','Noto Serif CJK SC',serif" font-size="20" font-weight="400" fill="#231F20"><tspan x="645.8" y="384.3">1</tspan><tspan x="655.8" y="384.3">1</tspan></text>
<text font-family="'Liberation Serif','Noto Serif CJK SC',serif" font-size="20" font-weight="400" fill="#231F20"><tspan x="728" y="384.3">2</tspan><tspan x="738" y="384.3">0</tspan></text>
<text font-family="'Liberation Serif','Noto Serif CJK SC',serif" font-size="20" font-weight="400" fill="#231F20"><tspan x="812.8" y="384.3">2</tspan><tspan x="822.8" y="384.3">0</tspan></text>
<text font-family="'Liberation Serif','Noto Serif CJK SC',serif" font-size="20" font-weight="400" fill="#231F20"><tspan x="899.3" y="384.3">3</tspan><tspan x="909.3" y="384.3">6</tspan></text>
<text font-family="'Liberation Serif','Noto Serif CJK SC',serif" font-size="20" font-weight="400" fill="#231F20"><tspan x="977.5" y="384.3">4</tspan><tspan x="987.5" y="384.3">0</tspan></text>
<text font-family="'Liberation Serif','Noto Serif CJK SC',serif" font-size="20" font-weight="400" fill="#231F20"><tspan x="1059.2" y="384.3">4</tspan><tspan x="1069.2" y="384.3">8</tspan></text>
<text font-family="'Liberation Serif','Noto Serif CJK SC',serif" font-size="20" font-weight="400" fill="#231F20"><tspan x="398.5" y="512.7">1</tspan><tspan x="408.5" y="512.7">5</tspan><tspan x="418.5" y="512.7">0</tspan></text>
<text font-family="'Liberation Serif','Noto Serif CJK SC',serif" font-size="20" font-weight="400" fill="#231F20"><tspan x="480.6" y="512.7">2</tspan><tspan x="490.6" y="512.7">2</tspan><tspan x="500.6" y="512.7">0</tspan></text>
<text font-family="'Liberation Serif','Noto Serif CJK SC',serif" font-size="20" font-weight="400" fill="#231F20"><tspan x="562.8" y="512.7">3</tspan><tspan x="572.8" y="512.7">0</tspan><tspan x="582.8" y="512.7">0</tspan></text>
<text font-family="'Liberation Serif','Noto Serif CJK SC',serif" font-size="20" font-weight="400" fill="#231F20"><tspan x="635" y="512.7">4</tspan><tspan x="645" y="512.7">0</tspan><tspan x="655" y="512.7">0</tspan></text>
<text font-family="'Liberation Serif','Noto Serif CJK SC',serif" font-size="20" font-weight="400" fill="#231F20"><tspan x="727.3" y="512.7">6</tspan><tspan x="737.3" y="512.7">0</tspan><tspan x="747.3" y="512.7">0</tspan></text>
<text font-family="'Liberation Serif','Noto Serif CJK SC',serif" font-size="20" font-weight="400" fill="#231F20"><tspan x="812.8" y="512.7">6</tspan><tspan x="822.8" y="512.7">0</tspan><tspan x="832.8" y="512.7">0</tspan></text>
<text font-family="'Liberation Serif','Noto Serif CJK SC',serif" font-size="20" font-weight="400" fill="#231F20"><tspan x="884.2" y="512.7">1</tspan><tspan x="894.2" y="512.7">3</tspan><tspan x="904.2" y="512.7">5</tspan><tspan x="914.2" y="512.7">0</tspan></text>
<text font-family="'Liberation Serif','Noto Serif CJK SC',serif" font-size="20" font-weight="400" fill="#231F20"><tspan x="966.9" y="512.7">1</tspan><tspan x="976.9" y="512.7">3</tspan><tspan x="986.9" y="512.7">5</tspan><tspan x="996.9" y="512.7">0</tspan></text>
<text font-family="'Liberation Serif','Noto Serif CJK SC',serif" font-size="20" font-weight="400" fill="#231F20"><tspan x="1049.3" y="512.7">1</tspan><tspan x="1059.3" y="512.7">6</tspan><tspan x="1069.3" y="512.7">5</tspan><tspan x="1079.3" y="512.7">0</tspan></text>
<text font-family="'Liberation Sans','Noto Sans CJK SC',sans-serif" font-size="20" font-weight="400" fill="#231F20"><tspan x="545" y="418.3">弹簧</tspan><tspan x="588.84" y="416.7" font-family="'Liberation Sans',sans-serif" font-size="20.4" textLength="6.11" lengthAdjust="spacingAndGlyphs" fill="#2e2c2e">(</tspan><tspan x="595.4" y="418.3">或波纹管</tspan><tspan x="678.44" y="416.7" font-family="'Liberation Sans',sans-serif" font-size="20.4" textLength="6.11" lengthAdjust="spacingAndGlyphs" fill="#2e2c2e">)</tspan><tspan x="689" y="418.3">式机械密封</tspan> <tspan x="803" y="418" font-family="'Liberation Sans',sans-serif" textLength="10.41" lengthAdjust="spacingAndGlyphs">&amp;</tspan> <tspan x="823.5" y="418.3">唇形密封</tspan></text>
<text font-family="'Liberation Sans','Noto Sans CJK SC',sans-serif" font-size="20" font-weight="400" fill="#231F20"><tspan x="684" y="449.8">唇形密封</tspan></text>
<text font-family="'Liberation Sans','Noto Sans CJK SC',sans-serif" font-size="20" font-weight="400" fill="#231F20"><tspan x="545" y="481.6">弹簧</tspan><tspan x="588.84" y="480" font-family="'Liberation Sans',sans-serif" font-size="20.4" textLength="6.11" lengthAdjust="spacingAndGlyphs" fill="#2e2c2e">(</tspan><tspan x="595.4" y="481.6">或波纹管</tspan><tspan x="678.44" y="480" font-family="'Liberation Sans',sans-serif" font-size="20.4" textLength="6.11" lengthAdjust="spacingAndGlyphs" fill="#2e2c2e">)</tspan><tspan x="689" y="481.6">式机械密封</tspan> <tspan x="803" y="481.3" font-family="'Liberation Sans',sans-serif" textLength="10.41" lengthAdjust="spacingAndGlyphs">&amp;</tspan> <tspan x="823.5" y="481.6">唇形密封</tspan></text>
<g id="chart1">
<path d="M166.02 614.2V855.7M179.48 614.2V855.7M189.03 614.2V855.7M196.44 614.2V855.7M202.5 614.2V855.7M207.62 614.2V855.7M212.05 614.2V855.7M215.96 614.2V855.7M242.48 614.2V855.7M255.94 614.2V855.7M265.49 614.2V855.7M272.9 614.2V855.7M278.96 614.2V855.7M284.08 614.2V855.7M288.51 614.2V855.7M292.42 614.2V855.7M318.94 614.2V855.7M332.4 614.2V855.7M341.95 614.2V855.7M349.36 614.2V855.7M355.42 614.2V855.7M360.54 614.2V855.7M364.97 614.2V855.7M368.88 614.2V855.7M395.4 614.2V855.7M408.86 614.2V855.7M418.41 614.2V855.7M425.82 614.2V855.7M431.88 614.2V855.7M437 614.2V855.7M441.43 614.2V855.7M445.34 614.2V855.7M471.86 614.2V855.7M485.32 614.2V855.7M494.87 614.2V855.7M502.28 614.2V855.7M508.34 614.2V855.7M513.46 614.2V855.7M517.89 614.2V855.7M521.8 614.2V855.7M143 831.47H525.3M143 817.29H525.3M143 807.23H525.3M143 799.43H525.3M143 793.06H525.3M143 787.67H525.3M143 783H525.3M143 778.88H525.3M143 750.97H525.3M143 736.79H525.3M143 726.73H525.3M143 718.93H525.3M143 712.56H525.3M143 707.17H525.3M143 702.5H525.3M143 698.38H525.3M143 670.47H525.3M143 656.29H525.3M143 646.23H525.3M143 638.43H525.3M143 632.06H525.3M143 626.67H525.3M143 622H525.3M143 617.88H525.3" stroke="#a0a0a0" stroke-width="0.95" fill="none"/>
<path d="M143 614.2V855.7M219.46 614.2V855.7M295.92 614.2V855.7M372.38 614.2V855.7M448.84 614.2V855.7M525.3 614.2V855.7M143 855.7H525.3M143 775.2H525.3M143 694.7H525.3M143 614.2H525.3" stroke="#666666" stroke-width="1.25" fill="none"/>
<g fill="none" stroke-linecap="butt" stroke-linejoin="round">
<path d="M234.2 856C234.8 844 235.28 834.4 236 820C236.6 808 236.89 802 237.5 790C238.17 776.68 238.32 770.01 239.2 756.7C240 744.68 240.5 738.68 241.7 726.7C242.5 718.68 242.47 714.57 244.2 706.7C245.13 702.48 246.03 700.38 248.3 696.7C250.41 693.28 252.32 692.2 255 689.2C257.68 686.2 259.32 684.94 261.7 681.7C264.02 678.55 264.1 676.22 266.7 673.3C268.84 670.9 270.33 669.95 273.3 668.7C277.09 667.1 279.23 666.89 283.3 666.3C288.62 665.53 291.33 665.3 296.7 665.3C335.6 665.3 358.68 666.12 400 666.3C450.12 666.52 483.53 666.3 525.3 666.3" stroke="#1CA6E4" stroke-width="3.3"/>
<path d="M230.7 856C231.3 834 231.8 816.4 232.5 790C232.92 774 232.7 765.99 233.5 750C233.9 741.97 234.37 737.96 235.5 730C235.98 726.62 236.4 724.93 237.5 721.7C238.89 717.59 240.22 715.78 241.7 711.7C242.9 708.41 242.65 706.44 244.2 703.3C245.34 700.98 246.4 700.06 248.3 698.3C250.75 696.03 252.22 695.15 255 693.3C258.22 691.15 259.9 690.15 263.3 688.3C266.58 686.51 268.15 685.37 271.7 684.2C276.21 682.71 278.59 682.32 283.3 681.7C289.94 680.83 293.31 680.77 300 680.5C313.31 679.97 319.98 679.8 333.3 679.7C346.66 679.6 353.34 679.64 366.7 680C380.03 680.36 386.68 680.96 400 681.5C419.2 682.28 428.8 682.72 448 683.3C468.8 683.92 479.2 684.1 500 684.5C510.12 684.7 516.87 684.7 525.3 684.8" stroke="#1FA14A" stroke-width="3"/>
<path d="M230.5 856C230.83 844 231.06 834.4 231.5 820C231.86 808 232.16 802 232.5 790C232.88 776.68 232.69 770.01 233.3 756.7C233.7 748 233.49 743.57 235 735C235.86 730.1 237.24 727.87 239.2 723.3C241.25 718.53 242.48 716.23 245 711.7C247.49 707.23 248.7 704.95 251.7 700.8C254.04 697.56 255.23 695.86 258.3 693.3C261.3 690.8 263.11 689.86 266.7 688.3C270.53 686.63 272.59 686.02 276.7 685.3C281.96 684.37 284.66 684.21 290 684.2C331.1 684.1 356 684.63 400 685C450.12 685.43 483.53 685.8 525.3 686.2" stroke="#B4168C" stroke-width="3.3"/>
</g>
<text x="142.7" y="879.7" font-family="'Liberation Serif','Noto Serif CJK SC',serif" font-size="12.8" fill="#343434" text-anchor="middle" font-weight="700">1</text>
<text x="219.16" y="879.7" font-family="'Liberation Serif','Noto Serif CJK SC',serif" font-size="12.8" fill="#343434" text-anchor="middle" font-weight="700">10</text>
<text x="295.62" y="879.7" font-family="'Liberation Serif','Noto Serif CJK SC',serif" font-size="12.8" fill="#343434" text-anchor="middle" font-weight="700">100</text>
<text x="372.08" y="879.7" font-family="'Liberation Serif','Noto Serif CJK SC',serif" font-size="12.8" fill="#343434" text-anchor="middle" font-weight="700">1000</text>
<text x="448.54" y="879.7" font-family="'Liberation Serif','Noto Serif CJK SC',serif" font-size="12.8" fill="#343434" text-anchor="middle" font-weight="700">10000</text>
<text x="525" y="879.7" font-family="'Liberation Serif','Noto Serif CJK SC',serif" font-size="12.8" fill="#343434" text-anchor="middle" font-weight="700">100000</text>
<text x="131" y="861.7" font-family="'Liberation Serif','Noto Serif CJK SC',serif" font-size="12.8" fill="#343434" text-anchor="end" font-weight="700">10</text>
<text x="131" y="780.9" font-family="'Liberation Serif','Noto Serif CJK SC',serif" font-size="12.8" fill="#343434" text-anchor="end" font-weight="700">100</text>
<text x="131" y="699.2" font-family="'Liberation Serif','Noto Serif CJK SC',serif" font-size="12.8" fill="#343434" text-anchor="end" font-weight="700">1000</text>
<text x="131" y="619.2" font-family="'Liberation Serif','Noto Serif CJK SC',serif" font-size="12.8" fill="#343434" text-anchor="end" font-weight="700">10000</text>
<text font-family="'Liberation Serif','Noto Serif CJK SC',serif" font-size="13.5" font-weight="400" fill="#222" stroke="#222" stroke-width="0.2"><tspan x="488.55" y="607.6">[</tspan><tspan x="493.59" y="607.6" textLength="6.21" lengthAdjust="spacingAndGlyphs">5</tspan><tspan x="499.79" y="607.6" textLength="6.21" lengthAdjust="spacingAndGlyphs">0</tspan><tspan x="505.88" y="607.6" textLength="6.43" lengthAdjust="spacingAndGlyphs">H</tspan><tspan x="512.54" y="607.6" textLength="5.51" lengthAdjust="spacingAndGlyphs">z</tspan><tspan x="518.95" y="607.6">]</tspan></text>
<text font-family="'Liberation Serif','Noto Serif CJK SC',serif" font-size="12.2" font-weight="700" fill="#111"><tspan x="289.7" y="899.5" textLength="49.4" lengthAdjust="spacing">吸气压力</tspan><tspan x="340.94" y="899.2" font-size="12.4" font-weight="400" stroke="#111" stroke-width="0.35">(</tspan><tspan x="345.64" y="899.2" font-size="12.4" font-weight="400" textLength="5.52" lengthAdjust="spacingAndGlyphs" stroke="#111" stroke-width="0.35">P</tspan><tspan x="351.79" y="899.2" font-size="12.4" font-weight="400" textLength="5.23" lengthAdjust="spacingAndGlyphs" stroke="#111" stroke-width="0.35">a</tspan> <tspan x="362.82" y="899.2" font-size="12.4" font-weight="400" textLength="7.16" lengthAdjust="spacingAndGlyphs" stroke="#111" stroke-width="0.35">A</tspan><tspan x="369.74" y="899.2" font-size="12.4" font-weight="400" stroke="#111" stroke-width="0.35">)</tspan></text>
<text transform="translate(83.7,734) rotate(-90)" text-anchor="middle" font-family="'Liberation Sans','Noto Sans CJK SC',sans-serif" font-size="11" font-weight="700" fill="#222">气量 <tspan font-weight="400" font-size="11.8" stroke="#222" stroke-width="0.3">(m³/hr)</tspan></text>
<path d="M411.8 735.5H440.7" stroke="#1CA6E4" stroke-width="3.2" stroke-linecap="round"/>
<text x="445" y="739.3" font-family="'Liberation Sans',sans-serif" font-weight="700" font-size="11.2" fill="#111" textLength="55" lengthAdjust="spacingAndGlyphs">KDPH2700</text>
<path d="M411.8 755.9H440.7" stroke="#1FA14A" stroke-width="3" stroke-linecap="round"/>
<text x="445" y="759.7" font-family="'Liberation Sans',sans-serif" font-weight="700" font-size="11.2" fill="#111" textLength="55" lengthAdjust="spacingAndGlyphs">KDPH1800</text>
<path d="M411.8 776.3H440.7" stroke="#B4168C" stroke-width="3.2" stroke-linecap="round"/>
<text x="445" y="780.1" font-family="'Liberation Sans',sans-serif" font-weight="700" font-size="11.2" fill="#111" textLength="55" lengthAdjust="spacingAndGlyphs">KDPH1500</text>
</g>
<g id="chart2">
<path d="M707.35 613.8V854.3M720.71 613.8V854.3M730.2 613.8V854.3M737.55 613.8V854.3M743.56 613.8V854.3M748.64 613.8V854.3M753.04 613.8V854.3M756.93 613.8V854.3M783.25 613.8V854.3M796.61 613.8V854.3M806.1 613.8V854.3M813.45 613.8V854.3M819.46 613.8V854.3M824.54 613.8V854.3M828.94 613.8V854.3M832.83 613.8V854.3M859.15 613.8V854.3M872.51 613.8V854.3M882 613.8V854.3M889.35 613.8V854.3M895.36 613.8V854.3M900.44 613.8V854.3M904.84 613.8V854.3M908.73 613.8V854.3M935.05 613.8V854.3M948.41 613.8V854.3M957.9 613.8V854.3M965.25 613.8V854.3M971.26 613.8V854.3M976.34 613.8V854.3M980.74 613.8V854.3M984.63 613.8V854.3M1010.95 613.8V854.3M1024.31 613.8V854.3M1033.8 613.8V854.3M1041.15 613.8V854.3M1047.16 613.8V854.3M1052.24 613.8V854.3M1056.64 613.8V854.3M1060.53 613.8V854.3M684.5 830.17H1064M684.5 816.05H1064M684.5 806.03H1064M684.5 798.27H1064M684.5 791.92H1064M684.5 786.55H1064M684.5 781.9H1064M684.5 777.8H1064M684.5 750H1064M684.5 735.88H1064M684.5 725.87H1064M684.5 718.1H1064M684.5 711.75H1064M684.5 706.38H1064M684.5 701.74H1064M684.5 697.63H1064M684.5 669.83H1064M684.5 655.72H1064M684.5 645.7H1064M684.5 637.93H1064M684.5 631.58H1064M684.5 626.22H1064M684.5 621.57H1064M684.5 617.47H1064" stroke="#a0a0a0" stroke-width="0.95" fill="none"/>
<path d="M684.5 613.8V854.3M760.4 613.8V854.3M836.3 613.8V854.3M912.2 613.8V854.3M988.1 613.8V854.3M1064 613.8V854.3M684.5 854.3H1064M684.5 774.13H1064M684.5 693.97H1064M684.5 613.8H1064" stroke="#666666" stroke-width="1.25" fill="none"/>
<g fill="none" stroke-linecap="butt" stroke-linejoin="round">
<path d="M748.3 854.5C748.4 836.33 748.43 821.8 748.6 800C748.79 776 748.8 764 749.2 740C749.36 730 749.4 724.99 750 715C750.4 708.3 750.46 704.9 751.7 698.3C752.48 694.16 753.04 692.03 755 688.3C756.42 685.59 757.71 684.53 760 682.5C763.74 679.18 765.84 677.77 770 675C775.17 671.56 777.98 670.19 783.3 667C785.98 665.39 787.2 664.38 790 663C792.9 661.57 794.35 660.71 797.5 660C802.41 658.89 804.96 658.55 810 658.5C844.17 658.17 864 658.79 900 659C965.6 659.39 1009.33 659.67 1064 660" stroke="#1CA6E4" stroke-width="3.2"/>
<path d="M748 854.5C748.33 836.33 748.62 821.8 749 800C749.42 776 749.12 763.99 750 740C750.32 731.17 750.67 726.73 752 718C752.87 712.29 753.53 709.42 755.5 704C756.75 700.55 757.71 698.87 760 696C763.56 691.53 765.53 689.35 770 685.8C774.91 681.9 777.46 679.79 783.3 677.5C787.69 675.78 790.3 676.44 795 676C800.99 675.44 803.99 675.26 810 675C820.39 674.54 825.6 674.56 836 674.2C848.6 673.76 854.89 673.08 867.5 673C884.9 672.88 893.6 673.23 911 673.7C941.41 674.51 956.6 675.31 987 676.2C1017.8 677.11 1038.33 677.53 1064 678.2" stroke="#1FA14A" stroke-width="2.8"/>
<path d="M748 854.5C748.33 836.33 748.62 821.8 749 800C749.42 776 749.19 763.99 750 740C750.27 731.98 750.51 727.94 751.7 720C752.51 714.58 753.1 711.84 755 706.7C756.45 702.77 757.04 700.46 760 697.5C763.27 694.23 765.93 693.89 770 691.7C775.25 688.88 777.84 687.38 783.3 685C787.86 683.01 790.13 681.8 795 680.8C800.9 679.58 803.98 679.57 810 679.5C845 679.07 864 679.43 900 679.5C965.6 679.63 1009.33 679.83 1064 680" stroke="#B4168C" stroke-width="3.2"/>
</g>
<text x="684.2" y="875.7" font-family="'Liberation Serif','Noto Serif CJK SC',serif" font-size="12.8" fill="#343434" text-anchor="middle" font-weight="700">1</text>
<text x="760.1" y="875.7" font-family="'Liberation Serif','Noto Serif CJK SC',serif" font-size="12.8" fill="#343434" text-anchor="middle" font-weight="700">10</text>
<text x="836" y="875.7" font-family="'Liberation Serif','Noto Serif CJK SC',serif" font-size="12.8" fill="#343434" text-anchor="middle" font-weight="700">100</text>
<text x="911.9" y="875.7" font-family="'Liberation Serif','Noto Serif CJK SC',serif" font-size="12.8" fill="#343434" text-anchor="middle" font-weight="700">1000</text>
<text x="987.8" y="875.7" font-family="'Liberation Serif','Noto Serif CJK SC',serif" font-size="12.8" fill="#343434" text-anchor="middle" font-weight="700">10000</text>
<text x="1063.7" y="875.7" font-family="'Liberation Serif','Noto Serif CJK SC',serif" font-size="12.8" fill="#343434" text-anchor="middle" font-weight="700">100000</text>
<text x="674.5" y="858.6" font-family="'Liberation Serif','Noto Serif CJK SC',serif" font-size="12.8" fill="#343434" text-anchor="end" font-weight="700">10</text>
<text x="674.5" y="778.2" font-family="'Liberation Serif','Noto Serif CJK SC',serif" font-size="12.8" fill="#343434" text-anchor="end" font-weight="700">100</text>
<text x="674.5" y="698.5" font-family="'Liberation Serif','Noto Serif CJK SC',serif" font-size="12.8" fill="#343434" text-anchor="end" font-weight="700">1000</text>
<text x="674.5" y="618.3" font-family="'Liberation Serif','Noto Serif CJK SC',serif" font-size="12.8" fill="#343434" text-anchor="end" font-weight="700">10000</text>
<text font-family="'Liberation Serif','Noto Serif CJK SC',serif" font-size="13.5" font-weight="400" fill="#222" stroke="#222" stroke-width="0.2"><tspan x="1028.75" y="605.2">[</tspan><tspan x="1033.79" y="605.2" textLength="6.21" lengthAdjust="spacingAndGlyphs">6</tspan><tspan x="1039.99" y="605.2" textLength="6.21" lengthAdjust="spacingAndGlyphs">0</tspan><tspan x="1046.08" y="605.2" textLength="6.43" lengthAdjust="spacingAndGlyphs">H</tspan><tspan x="1052.74" y="605.2" textLength="5.51" lengthAdjust="spacingAndGlyphs">z</tspan><tspan x="1059.15" y="605.2">]</tspan></text>
<text font-family="'Liberation Serif','Noto Serif CJK SC',serif" font-size="12.2" font-weight="700" fill="#111"><tspan x="830.2" y="902" textLength="49.4" lengthAdjust="spacing">吸气压力</tspan><tspan x="881.44" y="901.7" font-size="12.4" font-weight="400" stroke="#111" stroke-width="0.35">(</tspan><tspan x="886.14" y="901.7" font-size="12.4" font-weight="400" textLength="5.52" lengthAdjust="spacingAndGlyphs" stroke="#111" stroke-width="0.35">P</tspan><tspan x="892.29" y="901.7" font-size="12.4" font-weight="400" textLength="5.23" lengthAdjust="spacingAndGlyphs" stroke="#111" stroke-width="0.35">a</tspan> <tspan x="903.32" y="901.7" font-size="12.4" font-weight="400" textLength="7.16" lengthAdjust="spacingAndGlyphs" stroke="#111" stroke-width="0.35">A</tspan><tspan x="910.24" y="901.7" font-size="12.4" font-weight="400" stroke="#111" stroke-width="0.35">)</tspan></text>
<text transform="translate(629.6,734) rotate(-90)" text-anchor="middle" font-family="'Liberation Sans','Noto Sans CJK SC',sans-serif" font-size="11" font-weight="700" fill="#222">气量 <tspan font-weight="400" font-size="11.8" stroke="#222" stroke-width="0.3">(m³/hr)</tspan></text>
<path d="M942.7 744.2H967.3" stroke="#1CA6E4" stroke-width="2.6" stroke-linecap="round"/>
<text x="971.5" y="748" font-family="'Liberation Sans',sans-serif" font-weight="700" font-size="10.2" fill="#111" textLength="49" lengthAdjust="spacingAndGlyphs">KDPH2700</text>
<path d="M942.7 763.8H967.3" stroke="#1FA14A" stroke-width="2.6" stroke-linecap="round"/>
<text x="971.5" y="767.6" font-family="'Liberation Sans',sans-serif" font-weight="700" font-size="10.2" fill="#111" textLength="49" lengthAdjust="spacingAndGlyphs">KDPH1800</text>
<path d="M942.7 783.4H967.3" stroke="#B4168C" stroke-width="2.6" stroke-linecap="round"/>
<text x="971.5" y="787.2" font-family="'Liberation Sans',sans-serif" font-weight="700" font-size="10.2" fill="#111" textLength="49" lengthAdjust="spacingAndGlyphs">KDPH1500</text>
</g>
<g id="chart3">
<path d="M166.26 917V1159.4M179.69 917V1159.4M189.21 917V1159.4M196.6 917V1159.4M202.64 917V1159.4M207.75 917V1159.4M212.17 917V1159.4M216.07 917V1159.4M242.52 917V1159.4M255.95 917V1159.4M265.47 917V1159.4M272.86 917V1159.4M278.9 917V1159.4M284.01 917V1159.4M288.43 917V1159.4M292.33 917V1159.4M318.78 917V1159.4M332.21 917V1159.4M341.73 917V1159.4M349.12 917V1159.4M355.16 917V1159.4M360.27 917V1159.4M364.69 917V1159.4M368.59 917V1159.4M395.04 917V1159.4M408.47 917V1159.4M417.99 917V1159.4M425.38 917V1159.4M431.42 917V1159.4M436.53 917V1159.4M440.95 917V1159.4M444.85 917V1159.4M471.3 917V1159.4M484.73 917V1159.4M494.25 917V1159.4M501.64 917V1159.4M507.68 917V1159.4M512.79 917V1159.4M517.21 917V1159.4M521.11 917V1159.4M143.3 1135.08H524.6M143.3 1120.85H524.6M143.3 1110.75H524.6M143.3 1102.92H524.6M143.3 1096.53H524.6M143.3 1091.12H524.6M143.3 1086.43H524.6M143.3 1082.3H524.6M143.3 1054.28H524.6M143.3 1040.05H524.6M143.3 1029.95H524.6M143.3 1022.12H524.6M143.3 1015.73H524.6M143.3 1010.32H524.6M143.3 1005.63H524.6M143.3 1001.5H524.6M143.3 973.48H524.6M143.3 959.25H524.6M143.3 949.15H524.6M143.3 941.32H524.6M143.3 934.93H524.6M143.3 929.52H524.6M143.3 924.83H524.6M143.3 920.7H524.6" stroke="#a0a0a0" stroke-width="0.95" fill="none"/>
<path d="M143.3 917V1159.4M219.56 917V1159.4M295.82 917V1159.4M372.08 917V1159.4M448.34 917V1159.4M524.6 917V1159.4M143.3 1159.4H524.6M143.3 1078.6H524.6M143.3 997.8H524.6M143.3 917H524.6" stroke="#666666" stroke-width="1.25" fill="none"/>
<g fill="none" stroke-linecap="butt" stroke-linejoin="round">
<path d="M213.5 936C214.57 935.4 215.31 934.68 216.7 934.2C219.94 933.07 221.61 932.57 225 932C230.96 931 233.99 930.89 240 930.3C245.31 929.77 247.97 929.52 253.3 929.2C259.97 928.8 263.32 928.74 270 928.5C282 928.06 287.99 927.57 300 927.5C360 927.17 390 927.26 450 927.5C470 927.58 480.01 927.5 500 928.3C509.83 928.7 516.33 929.77 524.5 930.5" stroke="#F4912A" stroke-width="2.8"/>
<path d="M189.5 1159.5C189.73 1141.33 189.65 1126.79 190.2 1105C190.85 1078.99 191.53 1066 192.5 1040C193.13 1023.32 193.5 1014.98 194.2 998.3C194.62 988.3 194.44 983.27 195.3 973.3C195.76 967.93 195.97 965.17 197.5 960C198.56 956.43 199.9 954.96 201.7 951.7C203.59 948.28 204.45 946.5 206.7 943.3C208.46 940.8 209.43 939.56 211.7 937.5C213.47 935.89 214.46 935.04 216.7 934.2C219.87 933.01 221.63 932.84 225 932.5C231.65 931.83 235.01 931.63 241.7 931.7C253.03 931.83 258.67 932.84 270 933C282 933.16 288 932.55 300 932.5C340 932.35 360 932.31 400 932.5C420 932.59 430 933.2 450 933.2C462 933.2 468 932.42 480 932.5C497.81 932.62 509.67 933.3 524.5 933.7" stroke="#141414" stroke-width="2.6"/>
<path d="M189.5 1159.5C190.33 1138.67 190.78 1121.99 192 1097C193.3 1070.19 194.17 1056.79 195.8 1030C196.37 1020.67 196.64 1016 197.5 1006.7C198 1001.32 198.25 998.62 199.2 993.3C199.93 989.24 200.14 987.12 201.7 983.3C203.17 979.71 204.55 978.22 206.7 975C208.55 972.22 209.69 970.97 211.7 968.3C213.69 965.65 214.54 964.21 216.7 961.7C218.55 959.56 219.32 958.24 221.7 956.7C224.07 955.17 225.55 954.82 228.3 954.2C231.6 953.45 233.32 953.37 236.7 953.3C250.02 953.01 256.68 953.32 270 953.3C341.1 953.2 378 952.66 450 953C479.81 953.14 499.67 954 524.5 954.5" stroke="#FDEF1C" stroke-width="2.7"/>
<path d="M189.2 1159.5C190.87 1133 191.97 1111.78 194.2 1080C195.61 1059.98 196.76 1050.01 198.3 1030C198.76 1024.01 198.59 1020.98 199.2 1015C199.95 1007.65 200.13 1003.92 201.7 996.7C202.47 993.17 203.39 991.53 205 988.3C206.73 984.83 208 983.32 210 980C212 976.68 212.67 974.8 215 971.7C216.7 969.44 217.62 968.23 220 966.7C222.41 965.16 223.9 964.77 226.7 964.2C230.64 963.4 232.68 963.38 236.7 963.3C250.02 963.02 256.68 963.26 270 963.3C365.93 963.6 439.67 963.9 524.5 964.2" stroke="#EE1C25" stroke-width="2.6"/>
<path d="M206.7 1159.5C206.47 1133 206.22 1111.8 206 1080C205.86 1060 205.71 1050 205.8 1030C205.83 1024 205.77 1020.98 206.3 1015C206.77 1009.64 207 1006.92 208.3 1001.7C209.18 998.18 209.85 996.42 211.7 993.3C213.26 990.66 214.29 989.39 216.7 987.5C219.02 985.68 220.45 984.97 223.3 984.2C227.19 983.15 229.27 983.15 233.3 983C247.97 982.47 255.32 982.52 270 982.5C310 982.44 330 982.43 370 982.8C386 982.95 394 983.46 410 983.8C426 984.14 434 984.4 450 984.5C479.8 984.68 499.67 984.5 524.5 984.5" stroke="#1CA6E4" stroke-width="3"/>
<path d="M229.2 1159.5C231.13 1132.33 232.08 1110.55 235 1078C236.73 1058.74 238.57 1048.23 240.8 1030C241.13 1027.32 241.16 1025.95 241.7 1023.3C242.52 1019.26 242.5 1017.06 244.2 1013.3C245.56 1010.28 246.94 1009.12 249.2 1006.7C251.29 1004.46 252.37 1003.28 255 1001.7C257.45 1000.23 258.92 999.89 261.7 999.2C264.96 998.4 266.65 998.01 270 998C357.6 997.83 439.67 998.47 524.5 998.7" stroke="#B2239A" stroke-width="2.5"/>
</g>
<text x="143" y="1183.4" font-family="'Liberation Serif','Noto Serif CJK SC',serif" font-size="12.8" fill="#343434" text-anchor="middle" font-weight="700">1</text>
<text x="219.26" y="1183.4" font-family="'Liberation Serif','Noto Serif CJK SC',serif" font-size="12.8" fill="#343434" text-anchor="middle" font-weight="700">10</text>
<text x="295.52" y="1183.4" font-family="'Liberation Serif','Noto Serif CJK SC',serif" font-size="12.8" fill="#343434" text-anchor="middle" font-weight="700">100</text>
<text x="371.78" y="1183.4" font-family="'Liberation Serif','Noto Serif CJK SC',serif" font-size="12.8" fill="#343434" text-anchor="middle" font-weight="700">1000</text>
<text x="448.04" y="1183.4" font-family="'Liberation Serif','Noto Serif CJK SC',serif" font-size="12.8" fill="#343434" text-anchor="middle" font-weight="700">10000</text>
<text x="524.3" y="1183.4" font-family="'Liberation Serif','Noto Serif CJK SC',serif" font-size="12.8" fill="#343434" text-anchor="middle" font-weight="700">100000</text>
<text x="131" y="1165.8" font-family="'Liberation Serif','Noto Serif CJK SC',serif" font-size="12.8" fill="#343434" text-anchor="end" font-weight="700">1</text>
<text x="131" y="1084.4" font-family="'Liberation Serif','Noto Serif CJK SC',serif" font-size="12.8" fill="#343434" text-anchor="end" font-weight="700">10</text>
<text x="131" y="1003.4" font-family="'Liberation Serif','Noto Serif CJK SC',serif" font-size="12.8" fill="#343434" text-anchor="end" font-weight="700">100</text>
<text x="131" y="922" font-family="'Liberation Serif','Noto Serif CJK SC',serif" font-size="12.8" fill="#343434" text-anchor="end" font-weight="700">1000</text>
<text font-family="'Liberation Serif','Noto Serif CJK SC',serif" font-size="13.5" font-weight="400" fill="#222" stroke="#222" stroke-width="0.2"><tspan x="487.75" y="908.8">[</tspan><tspan x="492.8" y="908.8" textLength="6.21" lengthAdjust="spacingAndGlyphs">5</tspan><tspan x="499" y="908.8" textLength="6.21" lengthAdjust="spacingAndGlyphs">0</tspan><tspan x="505.08" y="908.8" textLength="6.43" lengthAdjust="spacingAndGlyphs">H</tspan><tspan x="511.74" y="908.8" textLength="5.51" lengthAdjust="spacingAndGlyphs">z</tspan><tspan x="518.15" y="908.8">]</tspan></text>
<text font-family="'Liberation Serif','Noto Serif CJK SC',serif" font-size="12.2" font-weight="700" fill="#111"><tspan x="290.2" y="1209.7" textLength="49.4" lengthAdjust="spacing">吸气压力</tspan><tspan x="341.44" y="1209.4" font-size="12.4" font-weight="400" stroke="#111" stroke-width="0.35">(</tspan><tspan x="346.14" y="1209.4" font-size="12.4" font-weight="400" textLength="5.52" lengthAdjust="spacingAndGlyphs" stroke="#111" stroke-width="0.35">P</tspan><tspan x="352.29" y="1209.4" font-size="12.4" font-weight="400" textLength="5.23" lengthAdjust="spacingAndGlyphs" stroke="#111" stroke-width="0.35">a</tspan> <tspan x="363.32" y="1209.4" font-size="12.4" font-weight="400" textLength="7.16" lengthAdjust="spacingAndGlyphs" stroke="#111" stroke-width="0.35">A</tspan><tspan x="370.24" y="1209.4" font-size="12.4" font-weight="400" stroke="#111" stroke-width="0.35">)</tspan></text>
<text transform="translate(83.7,1034) rotate(-90)" text-anchor="middle" font-family="'Liberation Sans','Noto Sans CJK SC',sans-serif" font-size="11" font-weight="700" fill="#222">气量 <tspan font-weight="400" font-size="11.8" stroke="#222" stroke-width="0.3">(m³/hr)</tspan></text>
<path d="M417.7 1041.3H441.5" stroke="#F4912A" stroke-width="2.6" stroke-linecap="round"/>
<text x="446.5" y="1045.1" font-family="'Liberation Sans',sans-serif" font-weight="700" font-size="10.4" fill="#111" textLength="48" lengthAdjust="spacingAndGlyphs">KDPH1000</text>
<path d="M417.7 1062H441.5" stroke="#141414" stroke-width="2.2" stroke-linecap="round"/>
<text x="446.5" y="1065.8" font-family="'Liberation Sans',sans-serif" font-weight="700" font-size="10.4" fill="#111" textLength="42" lengthAdjust="spacingAndGlyphs">KDPH800</text>
<path d="M417.7 1082.5H441.5" stroke="#FDEF1C" stroke-width="2.8" stroke-linecap="round"/>
<text x="446.5" y="1086.3" font-family="'Liberation Sans',sans-serif" font-weight="700" font-size="10.4" fill="#111" textLength="42" lengthAdjust="spacingAndGlyphs">KDPH430</text>
<path d="M417.7 1102.8H441.5" stroke="#EE1C25" stroke-width="2.4" stroke-linecap="round"/>
<text x="446.5" y="1106.6" font-family="'Liberation Sans',sans-serif" font-weight="700" font-size="10.4" fill="#111" textLength="42" lengthAdjust="spacingAndGlyphs">KDPH320</text>
<path d="M417.7 1123.3H441.5" stroke="#1CA6E4" stroke-width="2.8" stroke-linecap="round"/>
<text x="446.5" y="1127.1" font-family="'Liberation Sans',sans-serif" font-weight="700" font-size="10.4" fill="#111" textLength="42" lengthAdjust="spacingAndGlyphs">KDPH200</text>
<path d="M417.7 1143.7H441.5" stroke="#B2239A" stroke-width="2.4" stroke-linecap="round"/>
<text x="446.5" y="1147.5" font-family="'Liberation Sans',sans-serif" font-weight="700" font-size="10.4" fill="#111" textLength="42" lengthAdjust="spacingAndGlyphs">KDPH120</text>
</g>
<g id="chart4">
<path d="M707.41 918V1159.3M720.81 918V1159.3M730.32 918V1159.3M737.69 918V1159.3M743.72 918V1159.3M748.81 918V1159.3M753.23 918V1159.3M757.12 918V1159.3M783.51 918V1159.3M796.91 918V1159.3M806.42 918V1159.3M813.79 918V1159.3M819.82 918V1159.3M824.91 918V1159.3M829.33 918V1159.3M833.22 918V1159.3M859.61 918V1159.3M873.01 918V1159.3M882.52 918V1159.3M889.89 918V1159.3M895.92 918V1159.3M901.01 918V1159.3M905.43 918V1159.3M909.32 918V1159.3M935.71 918V1159.3M949.11 918V1159.3M958.62 918V1159.3M965.99 918V1159.3M972.02 918V1159.3M977.11 918V1159.3M981.53 918V1159.3M985.42 918V1159.3M1011.81 918V1159.3M1025.21 918V1159.3M1034.72 918V1159.3M1042.09 918V1159.3M1048.12 918V1159.3M1053.21 918V1159.3M1057.63 918V1159.3M1061.52 918V1159.3M684.5 1135.09H1065M684.5 1120.92H1065M684.5 1110.87H1065M684.5 1103.08H1065M684.5 1096.71H1065M684.5 1091.33H1065M684.5 1086.66H1065M684.5 1082.55H1065M684.5 1054.65H1065M684.5 1040.49H1065M684.5 1030.44H1065M684.5 1022.65H1065M684.5 1016.28H1065M684.5 1010.89H1065M684.5 1006.23H1065M684.5 1002.11H1065M684.5 974.22H1065M684.5 960.06H1065M684.5 950.01H1065M684.5 942.21H1065M684.5 935.84H1065M684.5 930.46H1065M684.5 925.79H1065M684.5 921.68H1065" stroke="#a0a0a0" stroke-width="0.95" fill="none"/>
<path d="M684.5 918V1159.3M760.6 918V1159.3M836.7 918V1159.3M912.8 918V1159.3M988.9 918V1159.3M1065 918V1159.3M684.5 1159.3H1065M684.5 1078.87H1065M684.5 998.43H1065M684.5 918H1065" stroke="#666666" stroke-width="1.25" fill="none"/>
<g fill="none" stroke-linecap="butt" stroke-linejoin="round">
<path d="M729.3 930.3C730.8 929 731.73 927.58 733.8 926.4C736.09 925.1 737.41 924.69 740 924.2C744.62 923.32 747 923.09 751.7 923C775.02 922.53 786.68 922.85 810 922.8C886 922.65 924 921.99 1000 922.5C1026.01 922.67 1043.33 923.83 1065 924.5" stroke="#F4912A" stroke-width="3.2"/>
<path d="M693.3 1159.4C695.53 1116.27 697.5 1080.9 700 1030C700.46 1020.69 700.35 1016.01 700.8 1006.7C701.35 995.33 701.61 989.65 702.5 978.3C702.97 972.28 702.69 969.15 704.2 963.3C705.05 959.99 706.44 958.67 708.3 955.8C710.77 952.01 712.16 950.22 715 946.7C717.53 943.57 718.78 941.97 721.7 939.2C724.8 936.27 726.35 934.7 730 932.5C733.06 930.66 734.82 930 738.3 929.2C743.57 927.99 746.31 927.92 751.7 927.5C755.01 927.24 756.69 927.28 760 927.5C764.02 927.76 765.97 928.6 770 928.7C786 929.08 794 928.75 810 928.7C886 928.47 924 928.06 1000 928C1020 927.98 1030.01 927.95 1050 928.5C1056.02 928.67 1060 929.37 1065 929.8" stroke="#141414" stroke-width="2.7"/>
<path d="M717 1159.4C717.4 1132.93 717.53 1111.76 718.2 1080C718.49 1065.99 718.81 1059 719.4 1045C719.65 1038.99 719.72 1035.98 720.3 1030C721.08 1021.98 722.23 1018.04 722.8 1010C723.51 1000.02 723.16 995 723.5 985C723.72 978.32 723.77 974.97 724.2 968.3C724.37 965.65 724.26 964.25 725 961.7C725.92 958.55 726.17 956.69 728.3 954.2C730.36 951.8 731.99 950.97 735 950C739.5 948.56 741.97 948.43 746.7 948.3C771.7 947.63 784.68 948.02 810 948C912 947.9 980 948 1065 948" stroke="#FDEF1C" stroke-width="2.8"/>
<path d="M716.7 1159.4C716.97 1119.6 717.05 1087.76 717.5 1040C717.69 1020 717.76 1010 718.3 990C718.44 984.67 718.23 981.94 719.2 976.7C719.61 974.5 720.28 973.43 721.7 971.7C723.34 969.7 724.57 969.06 726.7 967.6C729.9 965.41 731.54 964.35 735 962.6C738.2 960.98 739.82 960.09 743.3 959.2C747.88 958.03 750.27 957.62 755 957.5C776.99 956.94 788 957.46 810 957.5C912 957.66 980 957.83 1065 958" stroke="#EE1C25" stroke-width="2.7"/>
<path d="M716.7 1159.4C717.33 1146.27 717.91 1135.76 718.6 1120C719.31 1104 719.56 1096 720.2 1080C720.6 1070 720.65 1064.99 721.2 1055C721.62 1047.39 722.06 1043.6 722.6 1036C723.06 1029.6 723.17 1026.39 723.7 1020C724.25 1013.31 724.09 1009.9 725.3 1003.3C725.94 999.83 726.83 998.21 728.3 995C730.04 991.19 730.89 989.22 733.3 985.8C734.93 983.49 735.87 982.25 738.3 980.8C741.36 978.97 743.19 978.46 746.7 977.8C751.95 976.81 754.66 976.83 760 976.7C780 976.23 790 976.27 810 976.3C886 976.4 924 976.49 1000 977C1026 977.17 1043.33 977.67 1065 978" stroke="#1CA6E4" stroke-width="2.8"/>
<path d="M746.7 1159.4C747.53 1138.5 748.15 1121.78 749.2 1096.7C750.15 1074.02 750.53 1062.67 751.7 1040C752.05 1033.31 752.44 1029.98 753 1023.3C753.44 1017.98 753.23 1015.25 754.2 1010C754.72 1007.19 755.07 1005.65 756.7 1003.3C758.18 1001.18 759.45 1000.47 761.7 999.2C764.83 997.44 766.54 996.75 770 995.8C775.22 994.37 777.95 994.12 783.3 993.3C788.64 992.48 791.32 992.16 796.7 991.7C802.01 991.24 804.67 990.97 810 991C826 991.09 834 991.85 850 992C910 992.57 940 992.24 1000 992.8C1026 993.04 1043.33 993.6 1065 994" stroke="#B2239A" stroke-width="2.6"/>
</g>
<text x="684.2" y="1181.9" font-family="'Liberation Serif','Noto Serif CJK SC',serif" font-size="12.8" fill="#343434" text-anchor="middle" font-weight="700">1</text>
<text x="760.3" y="1181.9" font-family="'Liberation Serif','Noto Serif CJK SC',serif" font-size="12.8" fill="#343434" text-anchor="middle" font-weight="700">10</text>
<text x="836.4" y="1181.9" font-family="'Liberation Serif','Noto Serif CJK SC',serif" font-size="12.8" fill="#343434" text-anchor="middle" font-weight="700">100</text>
<text x="912.5" y="1181.9" font-family="'Liberation Serif','Noto Serif CJK SC',serif" font-size="12.8" fill="#343434" text-anchor="middle" font-weight="700">1000</text>
<text x="988.6" y="1181.9" font-family="'Liberation Serif','Noto Serif CJK SC',serif" font-size="12.8" fill="#343434" text-anchor="middle" font-weight="700">10000</text>
<text x="1064.7" y="1181.9" font-family="'Liberation Serif','Noto Serif CJK SC',serif" font-size="12.8" fill="#343434" text-anchor="middle" font-weight="700">100000</text>
<text x="673.8" y="1164.2" font-family="'Liberation Serif','Noto Serif CJK SC',serif" font-size="12.8" fill="#343434" text-anchor="end" font-weight="700">1</text>
<text x="673.8" y="1083.4" font-family="'Liberation Serif','Noto Serif CJK SC',serif" font-size="12.8" fill="#343434" text-anchor="end" font-weight="700">10</text>
<text x="673.8" y="1003" font-family="'Liberation Serif','Noto Serif CJK SC',serif" font-size="12.8" fill="#343434" text-anchor="end" font-weight="700">100</text>
<text x="673.8" y="922" font-family="'Liberation Serif','Noto Serif CJK SC',serif" font-size="12.8" fill="#343434" text-anchor="end" font-weight="700">1000</text>
<text font-family="'Liberation Serif','Noto Serif CJK SC',serif" font-size="13.5" font-weight="400" fill="#222" stroke="#222" stroke-width="0.2"><tspan x="1030.35" y="908.8">[</tspan><tspan x="1035.39" y="908.8" textLength="6.21" lengthAdjust="spacingAndGlyphs">6</tspan><tspan x="1041.6" y="908.8" textLength="6.21" lengthAdjust="spacingAndGlyphs">0</tspan><tspan x="1047.68" y="908.8" textLength="6.43" lengthAdjust="spacingAndGlyphs">H</tspan><tspan x="1054.34" y="908.8" textLength="5.51" lengthAdjust="spacingAndGlyphs">z</tspan><tspan x="1060.75" y="908.8">]</tspan></text>
<text font-family="'Liberation Serif','Noto Serif CJK SC',serif" font-size="12.2" font-weight="700" fill="#111"><tspan x="830.6" y="1208.7" textLength="49.4" lengthAdjust="spacing">吸气压力</tspan><tspan x="881.84" y="1208.4" font-size="12.4" font-weight="400" stroke="#111" stroke-width="0.35">(</tspan><tspan x="886.54" y="1208.4" font-size="12.4" font-weight="400" textLength="5.52" lengthAdjust="spacingAndGlyphs" stroke="#111" stroke-width="0.35">P</tspan><tspan x="892.69" y="1208.4" font-size="12.4" font-weight="400" textLength="5.23" lengthAdjust="spacingAndGlyphs" stroke="#111" stroke-width="0.35">a</tspan> <tspan x="903.72" y="1208.4" font-size="12.4" font-weight="400" textLength="7.16" lengthAdjust="spacingAndGlyphs" stroke="#111" stroke-width="0.35">A</tspan><tspan x="910.64" y="1208.4" font-size="12.4" font-weight="400" stroke="#111" stroke-width="0.35">)</tspan></text>
<text transform="translate(629.6,1034) rotate(-90)" text-anchor="middle" font-family="'Liberation Sans','Noto Sans CJK SC',sans-serif" font-size="11" font-weight="700" fill="#222">气量 <tspan font-weight="400" font-size="11.8" stroke="#222" stroke-width="0.3">(m³/hr)</tspan></text>
<path d="M966.3 1038.7H991.5" stroke="#F4912A" stroke-width="2.8" stroke-linecap="round"/>
<text x="995.8" y="1042.5" font-family="'Liberation Sans',sans-serif" font-weight="700" font-size="10.5" fill="#111" textLength="49" lengthAdjust="spacingAndGlyphs">KDPH1000</text>
<path d="M966.3 1059.2H991.5" stroke="#141414" stroke-width="2.2" stroke-linecap="round"/>
<text x="995.8" y="1063" font-family="'Liberation Sans',sans-serif" font-weight="700" font-size="10.5" fill="#111" textLength="43" lengthAdjust="spacingAndGlyphs">KDPH800</text>
<path d="M966.3 1080H991.5" stroke="#FDEF1C" stroke-width="4" stroke-linecap="round"/>
<text x="995.8" y="1083.8" font-family="'Liberation Sans',sans-serif" font-weight="700" font-size="10.5" fill="#111" textLength="43" lengthAdjust="spacingAndGlyphs">KDPH430</text>
<path d="M966.3 1100.5H991.5" stroke="#EE1C25" stroke-width="2.6" stroke-linecap="round"/>
<text x="995.8" y="1104.3" font-family="'Liberation Sans',sans-serif" font-weight="700" font-size="10.5" fill="#111" textLength="43" lengthAdjust="spacingAndGlyphs">KDPH320</text>
<path d="M966.3 1121.2H991.5" stroke="#1CA6E4" stroke-width="2.6" stroke-linecap="round"/>
<text x="995.8" y="1125" font-family="'Liberation Sans',sans-serif" font-weight="700" font-size="10.5" fill="#111" textLength="43" lengthAdjust="spacingAndGlyphs">KDPH200</text>
<path d="M966.3 1142H991.5" stroke="#B2239A" stroke-width="2.6" stroke-linecap="round"/>
<text x="995.8" y="1145.8" font-family="'Liberation Sans',sans-serif" font-weight="700" font-size="10.5" fill="#111" textLength="43" lengthAdjust="spacingAndGlyphs">KDPH120</text>
</g>
<rect x="76" y="1216.4" width="1124" height="0.95" fill="#eeeef0"/>
<rect x="76" y="1217.3" width="1124" height="0.95" fill="#dcdce0"/>
<rect x="76" y="1218.2" width="1124" height="0.95" fill="#d0d0d5"/>
<rect x="76" y="1219.1" width="1124" height="0.95" fill="#c8c8cd"/>
</svg></body></html>
